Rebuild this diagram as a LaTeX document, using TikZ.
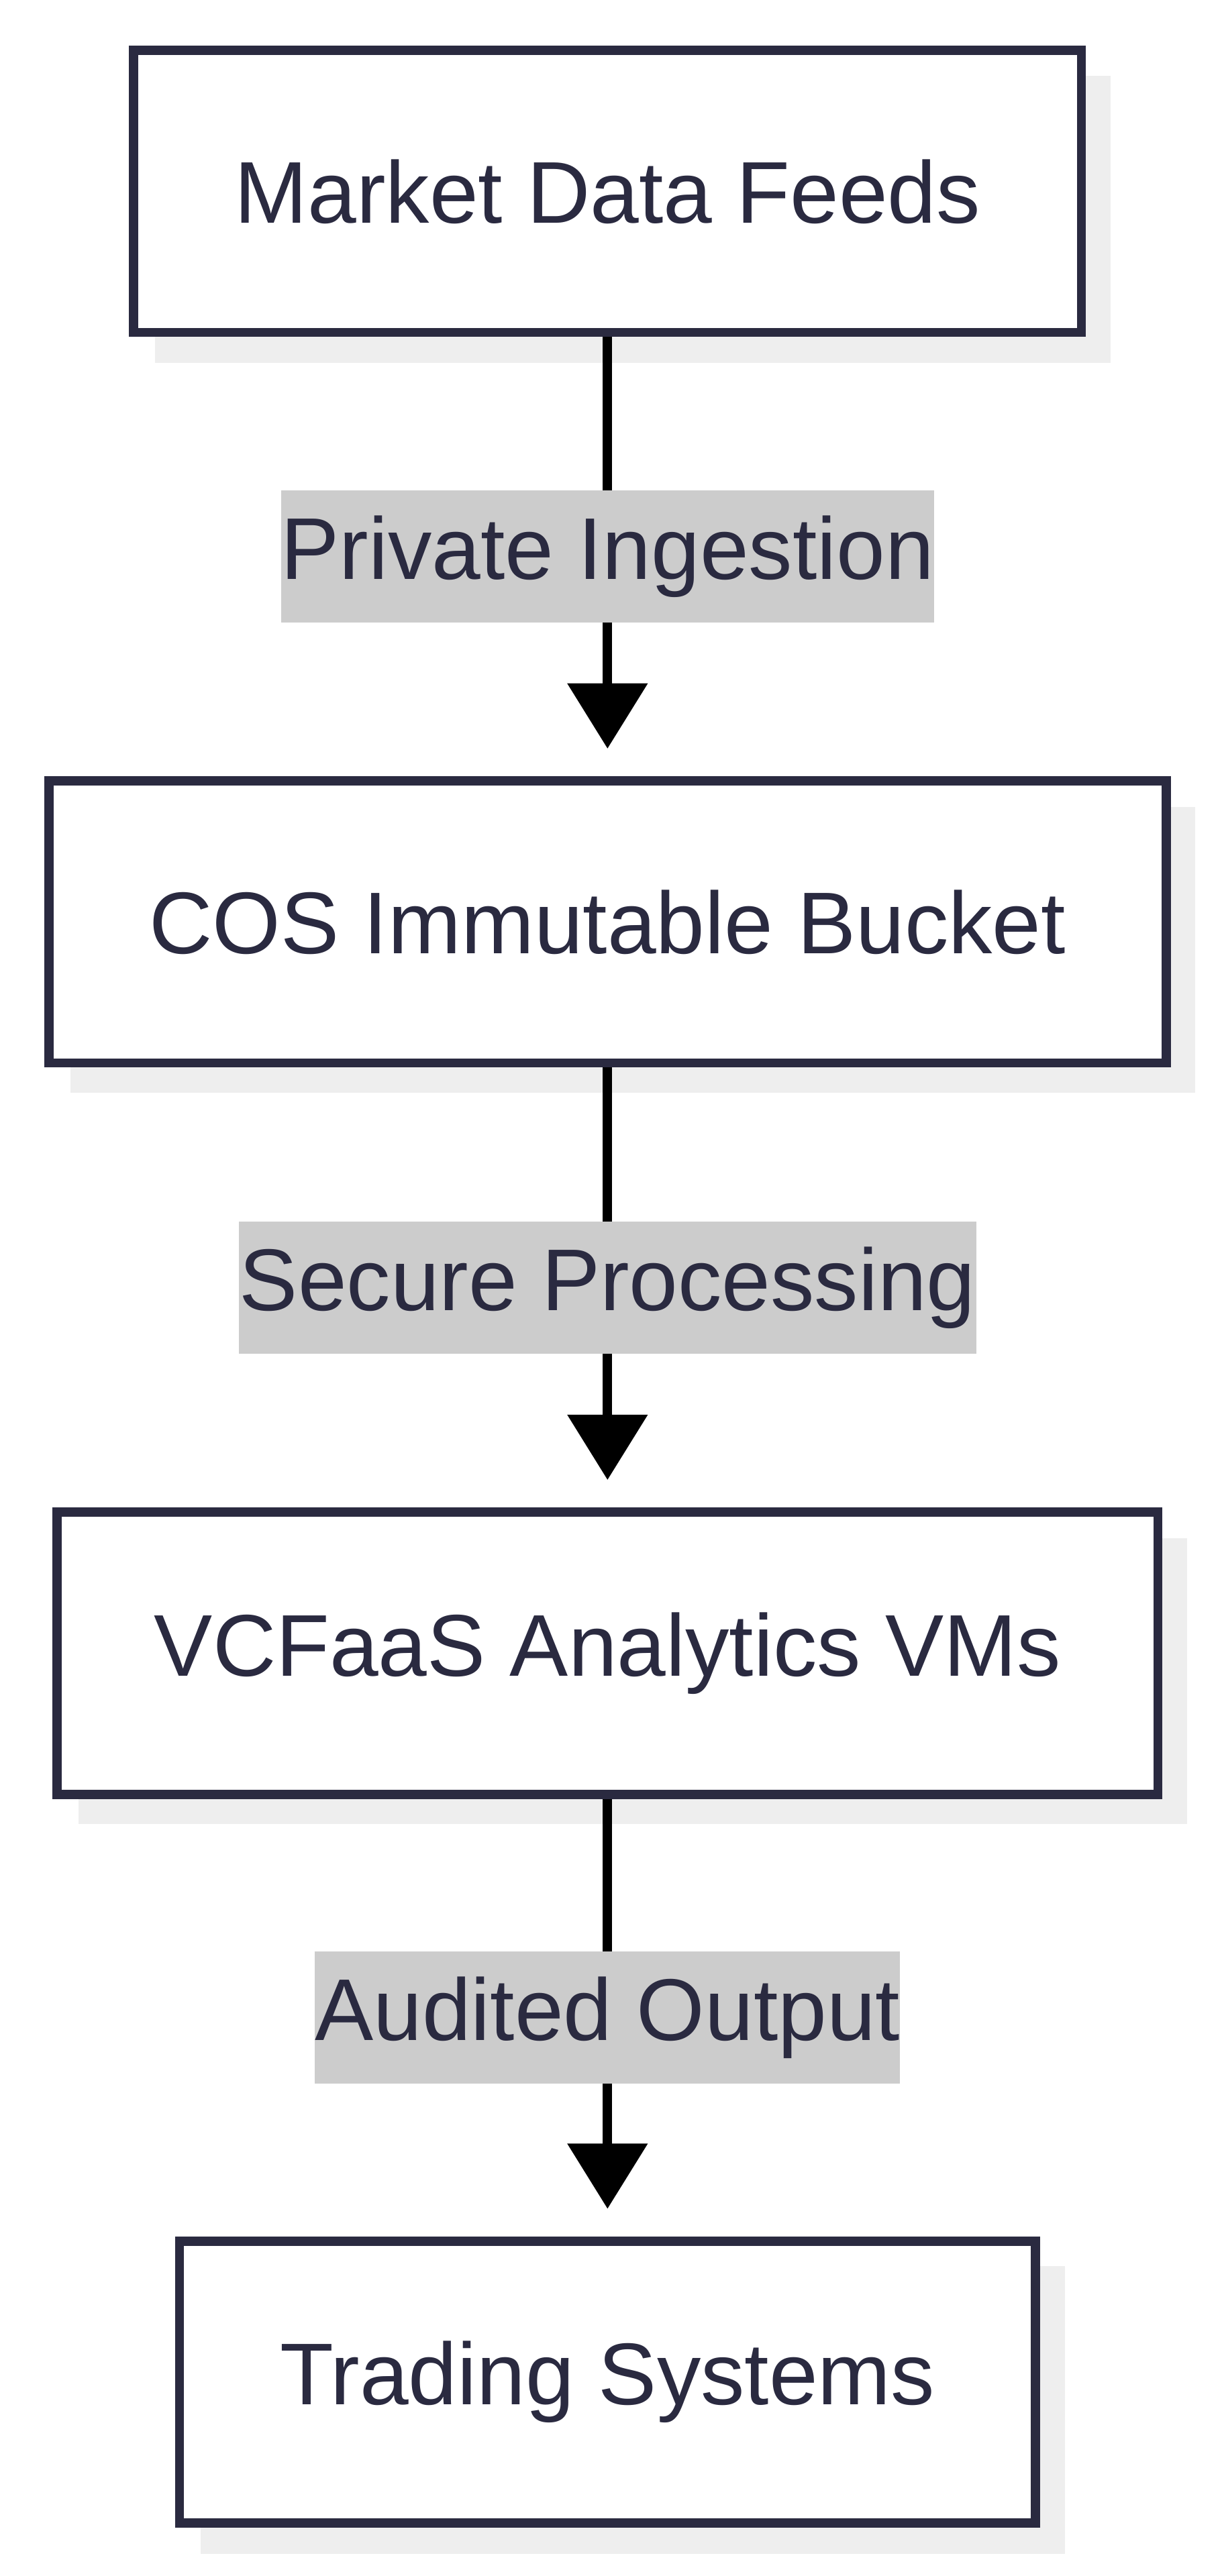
\documentclass[tikz,border=0pt]{standalone}
\usepackage{fontspec}
\setmainfont{Liberation Sans}
\usetikzlibrary{arrows.meta,positioning}
\definecolor{boxline}{HTML}{2A2A40}
\definecolor{labelbg}{HTML}{CCCCCC}
\definecolor{shadowgray}{HTML}{EEEEEE}
\begin{document}
\begin{tikzpicture}[x=1mm, y=-1.008mm,
    box/.style={rectangle, draw=boxline, line width=1.6pt, fill=white, inner sep=0pt,
      minimum height=17.3mm, text=boxline, font=\fontsize{15.3}{18}\selectfont},
    lbl/.style={fill=labelbg, text=boxline, inner sep=0pt, minimum height=8.1mm,
      font=\fontsize{15.3}{18}\selectfont},
    arrow/.style={-{Triangle[length=4mm,width=4.8mm]}, line width=1.6pt, shorten >=1.7mm}]
    \useasboundingbox (0,0) rectangle (74.9,156.75);

    % shadows
    \fill[shadowgray] (9.5,4.6) rectangle (68.1,22.1);
    \fill[shadowgray] (4.3,49.1) rectangle (73.3,66.5);
    \fill[shadowgray] (4.8,93.6) rectangle (72.8,111.0);
    \fill[shadowgray] (12.3,137.9) rectangle (65.3,155.4);

    \node[box, minimum width=58.1mm] (feeds) at (37.25,11.65) {Market Data Feeds};
    \node[box, minimum width=68.5mm] (bucket) at (37.25,56.1) {COS Immutable Bucket};
    \node[box, minimum width=67.5mm] (vms) at (37.25,100.6) {VCFaaS Analytics VMs};
    \node[box, minimum width=52.5mm] (trading) at (37.25,144.95) {Trading Systems};

    \draw[arrow] (feeds) -- node[lbl, minimum width=39.9mm] {Private Ingestion} (bucket);
    \draw[arrow] (bucket) -- node[lbl, minimum width=45.2mm] {Secure Processing} (vms);
    \draw[arrow] (vms) -- node[lbl, minimum width=35.7mm] {Audited Output} (trading);
\end{tikzpicture}
\end{document}
